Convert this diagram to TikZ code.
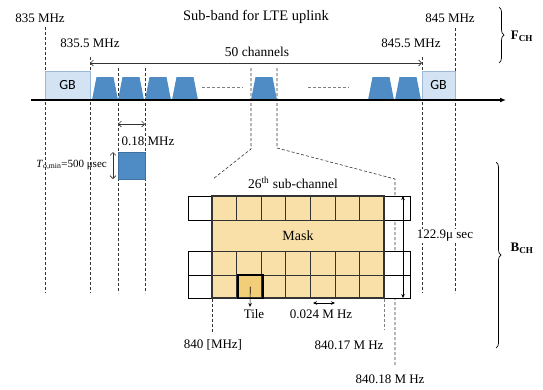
\documentclass[tikz,border=0pt]{standalone}
\usepackage{fontspec}
\setmainfont{Liberation Serif}
\newfontfamily\gbfont{Carlito}
\usetikzlibrary{arrows.meta,decorations.pathreplacing}
\definecolor{chblue}{HTML}{4F8CC6}
\definecolor{gbfill}{HTML}{D3E3F3}
\definecolor{gbline}{HTML}{9BB8D9}
\definecolor{maskfill}{HTML}{F8E0A8}
\definecolor{tilefill}{HTML}{F3CE78}
\definecolor{gridline}{HTML}{333333}
\definecolor{dashgray}{HTML}{333333}
\begin{document}
\begin{tikzpicture}[x=1pt,y=-1pt,
  font=\fontsize{13}{15}\selectfont,
  dline/.style={draw=dashgray, line width=0.6pt, dash pattern=on 3pt off 2pt},
  lbl/.style={inner sep=0pt, anchor=center},
  gbbox/.style={fill=gbfill, draw=gbline, line width=0.8pt, inner sep=0pt, font=\gbfont\fontsize{14}{16}\selectfont},
  barb/.style={{Straight Barb[length=3pt,width=6pt]}-{Straight Barb[length=3pt,width=6pt]}, line width=0.6pt, draw=gridline},
  stealth2/.style={{Stealth[length=4pt,width=3.5pt]}-{Stealth[length=4pt,width=3.5pt]}, line width=0.6pt},
  cell/.style={fill=white, draw=black, line width=0.8pt, inner sep=0pt},
  bracestyle/.style={decorate, decoration={brace, amplitude=5pt}, line width=0.7pt},
]
\useasboundingbox (0,0) rectangle (543,389);

% ---- vertical dashed guide lines
\coordinate (l835t) at (45,27);   \coordinate (l835b) at (45,293);
\coordinate (l8355t) at (90,57);  \coordinate (l8355b) at (90,293);
\coordinate (lat) at (118,68);    \coordinate (lab) at (118,293);
\coordinate (lbt) at (145,68);    \coordinate (lbb) at (145,293);
\coordinate (l8455t) at (422,57); \coordinate (l8455b) at (422,293);
\coordinate (l845t) at (455,28);  \coordinate (l845b) at (455,293);
\draw[dline] (l835t) -- (l835b);
\draw[dline] (l8355t) -- (l8355b);
\draw[dline] (lat) -- (lab);
\draw[dline] (lbt) -- (lbb);
\draw[dline] (l8455t) -- (l8455b);
\draw[dline] (l845t) -- (l845b);

% ---- zoom lines from the 26th channel
\coordinate (z1t) at (251,68); \coordinate (z1m) at (251,149); \coordinate (z1b) at (213,179);
\coordinate (z2t) at (277,68); \coordinate (z2m) at (277,148); \coordinate (z2b) at (395,179); \coordinate (z2e) at (395,365);
\draw[dline] (z1t) -- (z1m) -- (z1b);
\draw[dline] (z2t) -- (z2m) -- (z2b) -- (z2e);

% ---- channels
\foreach \x in {92,118,145,172,251,368,395}{
  \fill[chblue] (\x,100) -- (\x+4.5,77) -- (\x+21.5,77) -- (\x+26,100) -- cycle;
}
\draw[dline, draw=gray] (202,87) -- (243,87);
\draw[dline, draw=gray] (308,87) -- (349,87);

% ---- guard bands
\node[gbbox, minimum width=45, minimum height=29] (gbL) at (67.5,85.5) {GB};
\node[gbbox, minimum width=33, minimum height=29] (gbR) at (438.5,85.5) {GB};

% ---- frequency axis
\coordinate (axL) at (31,100); \coordinate (axR) at (506,100);
\draw[line width=1.2pt, -{Latex[length=6pt,width=5pt]}] (axL) -- (axR);

% ---- top labels
\node[lbl] (t835) at (40,18) {835 MHz};
\node[lbl, font=\fontsize{14.5}{16}\selectfont] (title) at (256,17) {Sub-band for LTE uplink};
\node[lbl] (t8355) at (90,43) {835.5 MHz};
\node[lbl] (t8455) at (411,43) {845.5 MHz};
\node[lbl] (t845) at (450,18) {845 MHz};
\node[lbl, font=\fontsize{13.5}{15}\selectfont] (t50) at (257,52) {50 channels};
\coordinate (a50L) at (90,63); \coordinate (a50R) at (422,63);
\draw[barb] (a50L) -- (a50R);

% ---- F_CH brace
\coordinate (fbT) at (499,7); \coordinate (fbB) at (499,63);
\draw[bracestyle] (fbT) -- (fbB);
\node[lbl] (fch) at (522,36) {\textbf{F}\textsubscript{\textbf{CH}}};

% ---- 0.18 MHz and T_o,min
\coordinate (a18L) at (118,124); \coordinate (a18R) at (145,124);
\draw[barb] (a18L) -- (a18R);
\node[lbl] (t18) at (148,141) {0.18 MHz};
\node[fill=chblue, draw=chblue!80!black, line width=0.4pt, minimum width=27, minimum height=27, inner sep=0pt] (sq) at (131.5,165.5) {};
\coordinate (aTt) at (113,152); \coordinate (aTb) at (113,179);
\draw[barb] (aTt) -- (aTb);
\node[lbl, anchor=east, font=\fontsize{11}{13}\selectfont] (tT) at (107,165) {\textit{T}\textsubscript{o,min}=500 μsec};

% ---- B_CH brace
\coordinate (bbT) at (496,162); \coordinate (bbB) at (496,348);
\draw[bracestyle] (bbT) -- (bbB);
\node[lbl] (bch) at (522,248) {\textbf{B}\textsubscript{\textbf{CH}}};

% ---- sub-channel grid
\node[fill=maskfill, inner sep=0pt, minimum width=172, minimum height=102] (mask) at (298,247) {};
\node[fill=tilefill, inner sep=0pt, minimum width=24.6, minimum height=23] (tile) at (250.3,286.5) {};
\foreach \k in {1,...,6}{
  \draw[gridline, line width=0.6pt] (212+\k*24.571,196) -- (212+\k*24.571,220);
  \draw[gridline, line width=0.6pt] (212+\k*24.571,251) -- (212+\k*24.571,298);
}
\foreach \y in {220,251,275}{
  \draw[gridline, line width=0.6pt] (212,\y) -- (384,\y);
}
% side cells
\node[cell, minimum width=24, minimum height=24] (cL1) at (200,208) {};
\node[cell, minimum width=24, minimum height=24] (cL3) at (200,263) {};
\node[cell, minimum width=24, minimum height=23] (cL4) at (200,286.5) {};
\node[cell, minimum width=26, minimum height=24] (cR1) at (397,208) {};
\node[cell, minimum width=26, minimum height=24] (cR3) at (397,263) {};
\node[cell, minimum width=26, minimum height=23] (cR4) at (397,286.5) {};
\draw[draw=black!80, line width=1.5pt] (mask.north west) rectangle (mask.south east);
\draw[black, line width=1.4pt] (tile.north west) rectangle (tile.south east);
\node[lbl, font=\fontsize{14}{16}\selectfont] (masktxt) at (298,236) {Mask};
\node[lbl, font=\fontsize{13.5}{15}\selectfont] (t26) at (293,183) {26\textsuperscript{th} sub-channel};

% ---- 122.9 arrow
\coordinate (a122t) at (403,196); \coordinate (a122b) at (403,298);
\draw[stealth2] (a122t) -- (a122b);
\node[fill=white, inner sep=1pt] (t122) at (445,236) {122.9μ sec};

% ---- below grid
\coordinate (d840t) at (212,299); \coordinate (d840b) at (212,332);
\draw[dline] (d840t) -- (d840b);
\coordinate (d17t) at (384,299); \coordinate (d17b) at (384,330);
\draw[dline, draw=gray] (d17t) -- (d17b);
\node[lbl] (tiletxt) at (254,314) {Tile};
\draw[line width=0.6pt, -{Stealth[length=4pt,width=3.5pt]}] (tile.center) -- (250,307);
\coordinate (a024L) at (313,303); \coordinate (a024R) at (335,303);
\draw[stealth2] (a024L) -- (a024R);
\node[lbl] (t024) at (321,314) {0.024 M Hz};
\node[lbl] (t840) at (213,345) {840 [MHz]};
\node[lbl] (t8417) at (349,345) {840.17 M Hz};
\node[lbl] (t8418) at (390,379) {840.18 M Hz};
\end{tikzpicture}
\end{document}
